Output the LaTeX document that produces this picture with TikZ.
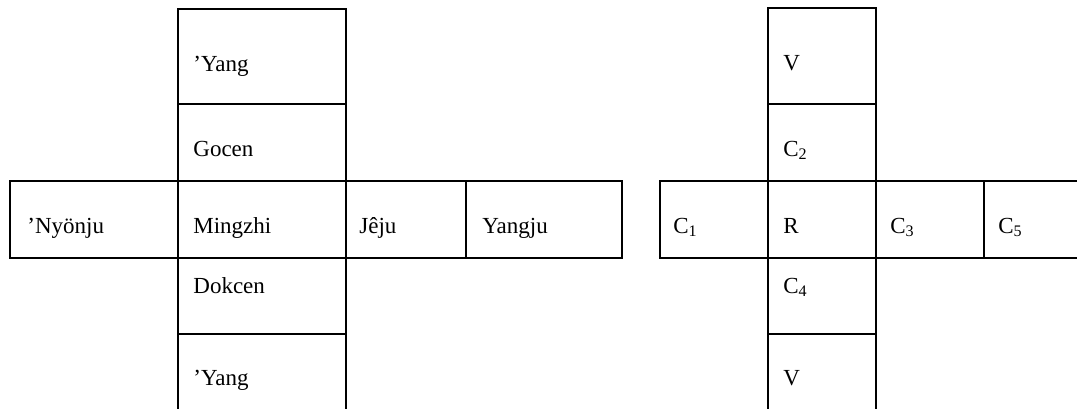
\documentclass[tikz,border=0pt]{standalone}
\usepackage{fontspec}
\setmainfont{Liberation Serif}
\tikzset{
  cell/.style={draw=black, line width=1pt},
  lbl/.style={anchor=base west, inner sep=0pt, font=\fontsize{11.5}{13}\selectfont}
}
\begin{document}
\begin{tikzpicture}[x=0.5pt, y=-0.5pt]
\useasboundingbox (0,0) rectangle (1077,408);
\clip (0,0) rectangle (1077,408);
% left figure cells
\draw[cell] (178,9) rectangle (346,104);
\draw[cell] (178,104) rectangle (346,181);
\draw[cell] (10,181) rectangle (178,257.5);
\draw[cell] (178,181) rectangle (346,257.5);
\draw[cell] (346,181) rectangle (466,257.5);
\draw[cell] (466,181) rectangle (622,257.5);
\draw[cell] (178,257.5) rectangle (346,334);
\draw[cell] (178,334) rectangle (346,430);
% right figure cells
\draw[cell] (768,8) rectangle (876,104);
\draw[cell] (768,104) rectangle (876,181);
\draw[cell] (660,181) rectangle (768,257.5);
\draw[cell] (768,181) rectangle (876,257.5);
\draw[cell] (876,181) rectangle (984,257.5);
\draw[cell] (984,181) rectangle (1100,257.5);
\draw[cell] (768,257.5) rectangle (876,334);
\draw[cell] (768,334) rectangle (876,430);
% left labels
\node[lbl] (yangT) at (193,71) {’Yang};
\node[lbl] (gocen) at (193,156) {Gocen};
\node[lbl] (nyonju) at (27,233) {’Nyönju};
\node[lbl] (mingzhi) at (193,233) {Mingzhi};
\node[lbl] (jeju) at (359,233) {Jêju};
\node[lbl] (yangju) at (482,233) {Yangju};
\node[lbl] (dokcen) at (193,293) {Dokcen};
\node[lbl] (yangB) at (193,385) {’Yang};
% right labels
\node[lbl] (vT) at (783,70) {V};
\node[lbl] (c2) at (783,156) {C\textsubscript{2}};
\node[lbl] (c1) at (673,233) {C\textsubscript{1}};
\node[lbl] (r) at (783,233) {R};
\node[lbl] (c3) at (890,233) {C\textsubscript{3}};
\node[lbl] (c5) at (998,233) {C\textsubscript{5}};
\node[lbl] (c4) at (783,293) {C\textsubscript{4}};
\node[lbl] (vB) at (783,385) {V};
\end{tikzpicture}
\end{document}
